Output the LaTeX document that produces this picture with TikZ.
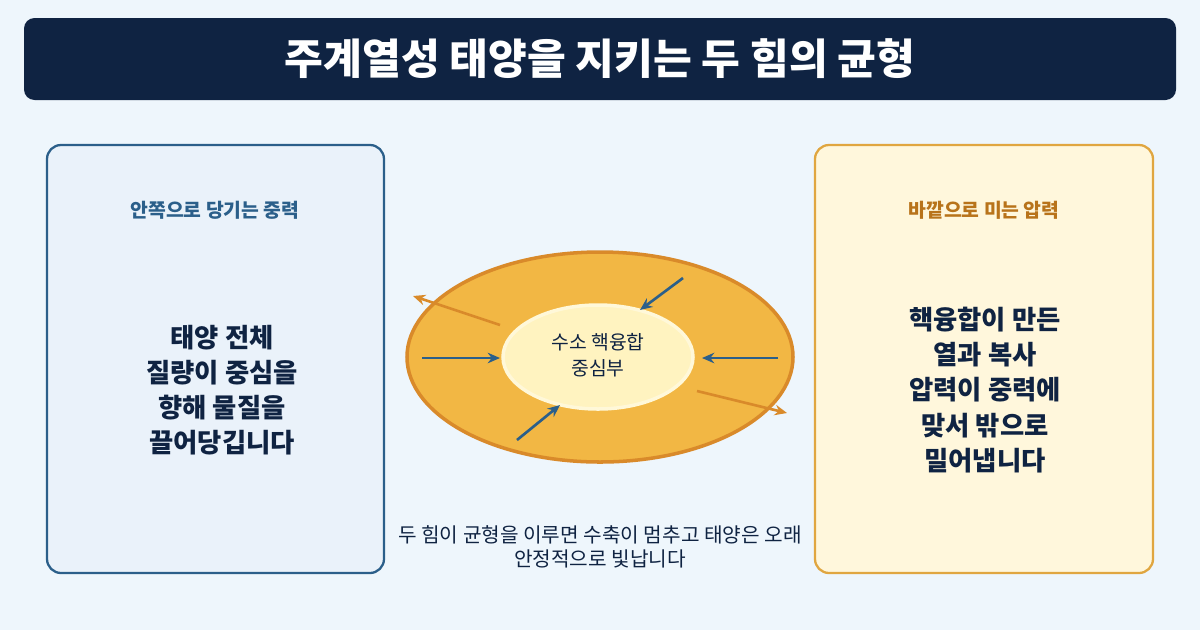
\documentclass[tikz,border=0pt]{standalone}
\usepackage{fontspec}
\setmainfont{Noto Sans CJK KR}
\usetikzlibrary{arrows.meta}
\definecolor{bgblue}{HTML}{EEF6FC}
\definecolor{navy}{HTML}{0F2342}
\definecolor{gravblue}{HTML}{2B5F8A}
\definecolor{gravfill}{HTML}{EAF2FA}
\definecolor{presfill}{HTML}{FFF7DC}
\definecolor{presline}{HTML}{E0A640}
\definecolor{presdark}{HTML}{B8731A}
\definecolor{sunfill}{HTML}{F2B744}
\definecolor{sunline}{HTML}{D98A2A}
\definecolor{corefill}{HTML}{FFF3C0}
\tikzset{
  panel/.style={rounded corners=8pt, line width=1.3pt},
  heading/.style={font=\fontsize{11}{13}\selectfont\bfseries},
  body/.style={font=\fontsize{15}{20}\selectfont\bfseries, text=navy, align=center},
  inward/.style={-{Stealth[length=7pt,width=6pt]}, line width=1.5pt, draw=gravblue},
  outward/.style={-{Stealth[length=7pt,width=6pt]}, line width=1.5pt, draw=sunline},
}
\begin{document}
\begin{tikzpicture}[x=0.02cm,y=-0.02cm]
        % background
        \fill[bgblue] (0,0) rectangle (1200,630);
        \useasboundingbox (0,0) rectangle (1200,630);
        % title
        \fill[navy, rounded corners=6pt] (24,18) rectangle (1176,100);
        \node[text=white, font=\fontsize{24}{28}\selectfont\bfseries] (title) at (600,59) {주계열성 태양을 지키는 두 힘의 균형};
        % gravity panel
        \draw[panel, draw=gravblue, fill=gravfill] (47,145) rectangle (384,573);
        \node[heading, text=gravblue] (gravhead) at (215,210) {안쪽으로 당기는 중력};
        \node[body] (gravbody) at (222,390) {태양 전체\\질량이 중심을\\향해 물질을\\끌어당깁니다};
        % pressure panel
        \draw[panel, draw=presline, fill=presfill] (815,145) rectangle (1153,573);
        \node[heading, text=presdark] (preshead) at (984,210) {바깥으로 미는 압력};
        \node[body] (presbody) at (985,390) {핵융합이 만든\\열과 복사\\압력이 중력에\\맞서 밖으로\\밀어냅니다};
        % sun
        \draw[line width=2pt, draw=sunline, fill=sunfill] (600,357) ellipse [x radius=193, y radius=105];
        \draw[line width=2pt, draw=corefill!60!white, fill=corefill] (598,357) ellipse [x radius=95, y radius=52];
        \node[font=\fontsize{11}{15}\selectfont, text=navy, align=center] (core) at (598,355) {수소 핵융합\\중심부};
        % arrow ends
        \coordinate (g1s) at (422,358); \coordinate (g1e) at (500,358);
        \coordinate (g2s) at (778,358); \coordinate (g2e) at (702,358);
        \coordinate (g3s) at (683,278); \coordinate (g3e) at (640,310);
        \coordinate (g4s) at (517,440); \coordinate (g4e) at (560,405);
        \coordinate (p1s) at (500,325); \coordinate (p1e) at (413,296);
        \coordinate (p2s) at (697,391); \coordinate (p2e) at (787,413);
        % gravity arrows
        \foreach \a in {1,2,3,4}
          \draw[inward] (g\a s) -- (g\a e);
        % pressure arrows
        \foreach \a in {1,2}
          \draw[outward] (p\a s) -- (p\a e);
        % caption
        \node[font=\fontsize{11.5}{14}\selectfont, text=navy, align=center] (caption) at (600,547) {두 힘이 균형을 이루면 수축이 멈추고 태양은 오래\\안정적으로 빛납니다};
\end{tikzpicture}
\end{document}
